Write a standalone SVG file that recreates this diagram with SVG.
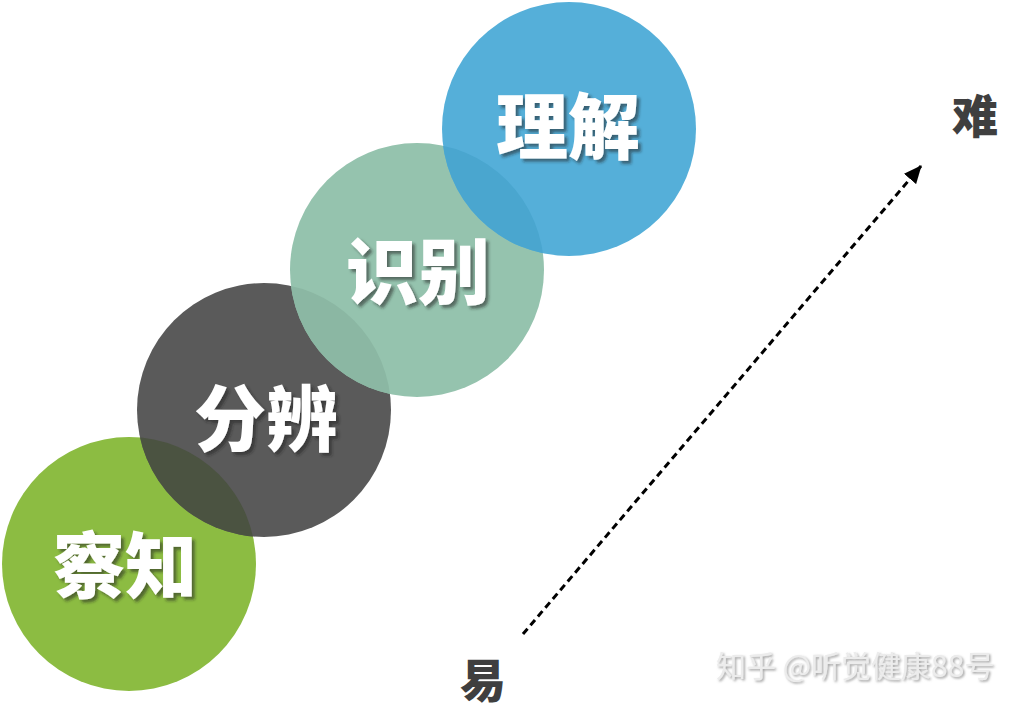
<svg xmlns="http://www.w3.org/2000/svg" width="1030" height="711" viewBox="0 0 1030 711">
<style>
.lbl{font-family:"Noto Sans CJK SC","Noto Sans",sans-serif;font-weight:900;font-size:72px;fill:#ffffff;text-anchor:middle;filter:url(#sh)}
.end{font-family:"Noto Sans CJK SC","Noto Sans",sans-serif;font-weight:900;font-size:46px;fill:#3f3f3f;text-anchor:middle}
.wm{font-family:"Noto Sans CJK SC","Noto Sans",sans-serif;font-size:30px;fill:#ececec;filter:url(#wsh)}
</style>
<defs>
<filter id="sh" x="-20%" y="-20%" width="140%" height="140%">
<feDropShadow dx="3" dy="3" stdDeviation="1.5" flood-color="#222" flood-opacity="0.55"/>
</filter>
<filter id="wsh" x="-10%" y="-30%" width="120%" height="160%">
<feDropShadow dx="1.5" dy="1.5" stdDeviation="0.8" flood-color="#777" flood-opacity="0.7"/>
</filter>
<clipPath id="cGreen"><circle cx="129" cy="564" r="127"/></clipPath>
<clipPath id="cGray"><circle cx="264" cy="410" r="127"/></clipPath>
<clipPath id="cTeal"><circle cx="417" cy="270" r="127"/></clipPath>
<marker id="ah" viewBox="0 0 18 16" refX="17" refY="8" markerWidth="18" markerHeight="16" markerUnits="userSpaceOnUse" orient="auto">
<path d="M0,0 L18,8 L0,16 z" fill="#000"/>
</marker>
</defs>
<rect width="1030" height="711" fill="#ffffff"/>
<g id="node-chazhi">
<circle cx="129" cy="564" r="127" fill="#8cbc42"/>
</g>
<g id="node-fenbian">
<circle cx="264" cy="410" r="127" fill="#5a5a5a"/>
<circle cx="264" cy="410" r="127" fill="#4b5341" clip-path="url(#cGreen)"/>
</g>
<g id="node-shibie">
<circle cx="417" cy="270" r="127" fill="#95c3ae"/>
<circle cx="417" cy="270" r="127" fill="#8bb7a3" clip-path="url(#cGray)"/>
</g>
<g id="node-lijie">
<circle cx="569" cy="129" r="127" fill="#55afd9"/>
<circle cx="569" cy="129" r="127" fill="#4aa6cf" clip-path="url(#cTeal)"/>
</g>
<g id="labels">
<text class="lbl" x="125" y="592">察知</text>
<text class="lbl" x="266" y="445">分辨</text>
<text class="lbl" x="418" y="298">识别</text>
<text class="lbl" x="568" y="153">理解</text>
</g>
<g id="connectors">
<line x1="523" y1="634" x2="921" y2="166" stroke="#000" stroke-width="3" stroke-dasharray="7,4.5" marker-end="url(#ah)"/>
</g>
<g id="node-nan"><text class="end" x="975" y="133">难</text></g>
<g id="node-yi"><text class="end" x="483" y="697">易</text></g>
<text class="wm" x="716" y="677">知乎 @听觉健康88号</text>
</svg>
